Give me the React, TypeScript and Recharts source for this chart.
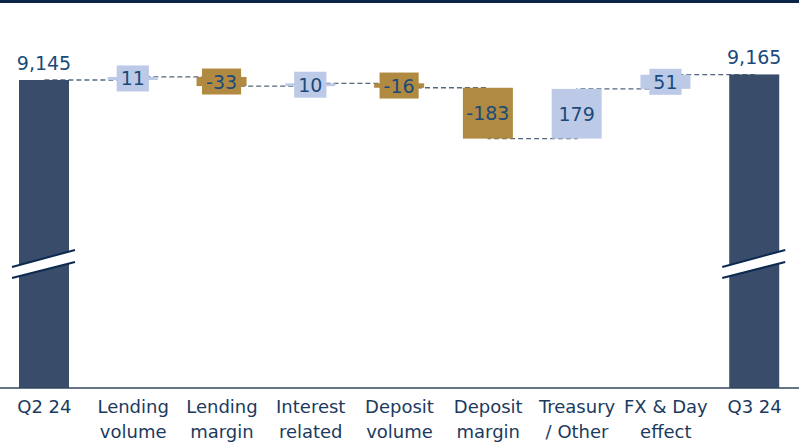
import React from 'react';
import { ComposedChart, Bar, Line, XAxis, YAxis } from 'recharts';

const categories = [
  'Q2 24',
  'Lending\nvolume',
  'Lending\nmargin',
  'Interest\nrelated',
  'Deposit\nvolume',
  'Deposit\nmargin',
  'Treasury\n/ Other',
  'FX & Day\neffect',
  'Q3 24',
];
const values = [9145, 11, -33, 10, -16, -183, 179, 51, 9165];
const kinds = ['total', 'delta', 'delta', 'delta', 'delta', 'delta', 'delta', 'delta', 'total'];

// visible part of the broken axis
const AXIS_MIN = 8036;
const AXIS_MAX = 9361;

const COL_TOTAL = '#394d6b';
const COL_UP = '#bccae8';
const COL_DOWN = '#b08a41';
const COL_LABEL = '#1b4a7a';
const COL_TICK = '#1c3a5e';
const FONT = '"DejaVu Sans", sans-serif';

const data = (() => {
  let running = 0;
  return categories.map((name, i) => {
    const v = values[i];
    if (kinds[i] === 'total') {
      running = v;
      return { name, value: v, kind: 'total', range: [AXIS_MIN, v], end: v };
    }
    const start = running;
    running = start + v;
    return {
      name,
      value: v,
      kind: 'delta',
      range: [Math.min(start, running), Math.max(start, running)],
      end: running,
    };
  });
})();

const fmt = (v: number) => v.toLocaleString('en-US');

const textWidth = (s: string) =>
  s.split('').reduce((w, c) => w + (c === '-' ? 6.9 : c === ',' ? 6 : 12.1), 0);

const WaterfallBar = (props: any) => {
  let { x, y, width, height } = props;
  const { payload } = props;
  if (height < 0) {
    y += height;
    height = -height;
  }
  const cx = x + width / 2;

  if (payload.kind === 'total') {
    const bottom = y + height;
    const bx0 = x - 7;
    const bx1 = x + width + 6;
    return (
      <g>
        <rect x={x} y={y} width={width} height={height} fill={COL_TOTAL} />
        <polygon
          points={`${bx0},${bottom - 121} ${bx1},${bottom - 138} ${bx1},${bottom - 126} ${bx0},${bottom - 110}`}
          fill="#fff"
        />
        <line x1={bx0} y1={bottom - 121} x2={bx1} y2={bottom - 138} stroke="#0c2a4f" strokeWidth={2} />
        <line x1={bx0} y1={bottom - 110} x2={bx1} y2={bottom - 126} stroke="#0c2a4f" strokeWidth={2} />
        <text
          x={cx}
          y={y - 10}
          textAnchor="middle"
          fontFamily={FONT}
          fontSize={19}
          fill={COL_LABEL}
        >
          {fmt(payload.value)}
        </text>
      </g>
    );
  }

  const fill = payload.value >= 0 ? COL_UP : COL_DOWN;
  const cy = y + height / 2;
  const label = String(payload.value);
  const boxH = 26;
  const boxW = textWidth(label) + 8;
  return (
    <g>
      <rect x={x} y={y} width={width} height={height} fill={fill} />
      {height < boxH && (
        <rect x={cx - boxW / 2} y={cy - boxH / 2} width={boxW} height={boxH} fill={fill} />
      )}
      <text
        x={cx}
        y={cy + 7}
        textAnchor="middle"
        fontFamily={FONT}
        fontSize={19}
        fill={COL_LABEL}
      >
        {label}
      </text>
    </g>
  );
};

const CategoryTick = (props: any) => {
  const { x, y, payload } = props;
  const lines = String(payload.value).split('\n');
  return (
    <text x={x} y={y} textAnchor="middle" fontFamily={FONT} fontSize={18} fill={COL_TICK}>
      {lines.map((l, i) => (
        <tspan key={i} x={x} dy={25}>
          {l}
        </tspan>
      ))}
    </text>
  );
};

const chartProps = {
  width: 799,
  height: 444,
  data,
  margin: { top: 20, right: 0, left: 0, bottom: 0 },
};

const layer: React.CSSProperties = { position: 'absolute', left: 0, top: 0 };

export default function App() {
  return (
    <div style={{ position: 'absolute', left: 0, top: 0, width: 799, height: 444, background: '#fff' }}>
      <div style={{ position: 'absolute', left: 0, top: 0, width: 799, height: 3, background: '#0b2447' }} />
      {/* connectors underneath the bars (same band scale via an invisible bar) */}
      <div style={layer}>
        <ComposedChart {...chartProps}>
          <XAxis
            dataKey="name"
            interval={0}
            height={56}
            tick={false}
            tickLine={false}
            axisLine={false}
          />
          <YAxis hide domain={[AXIS_MIN, AXIS_MAX]} allowDataOverflow />
          <Bar dataKey="range" barSize={50} fill="none" isAnimationActive={false} />
          <Line
            dataKey="end"
            type="stepAfter"
            stroke="#56677d"
            strokeWidth={1.3}
            strokeDasharray="5 3"
            dot={false}
            activeDot={false}
            isAnimationActive={false}
          />
        </ComposedChart>
      </div>
      <div style={layer}>
        <ComposedChart {...chartProps}>
          <XAxis
            dataKey="name"
            interval={0}
            height={56}
            tickLine={false}
            tickSize={0}
            tickMargin={0}
            axisLine={{ stroke: '#33475f', strokeWidth: 1.5 }}
            tick={<CategoryTick />}
          />
          <YAxis hide domain={[AXIS_MIN, AXIS_MAX]} allowDataOverflow />
          <Bar dataKey="range" barSize={50} shape={<WaterfallBar />} isAnimationActive={false} />
        </ComposedChart>
      </div>
    </div>
  );
}
